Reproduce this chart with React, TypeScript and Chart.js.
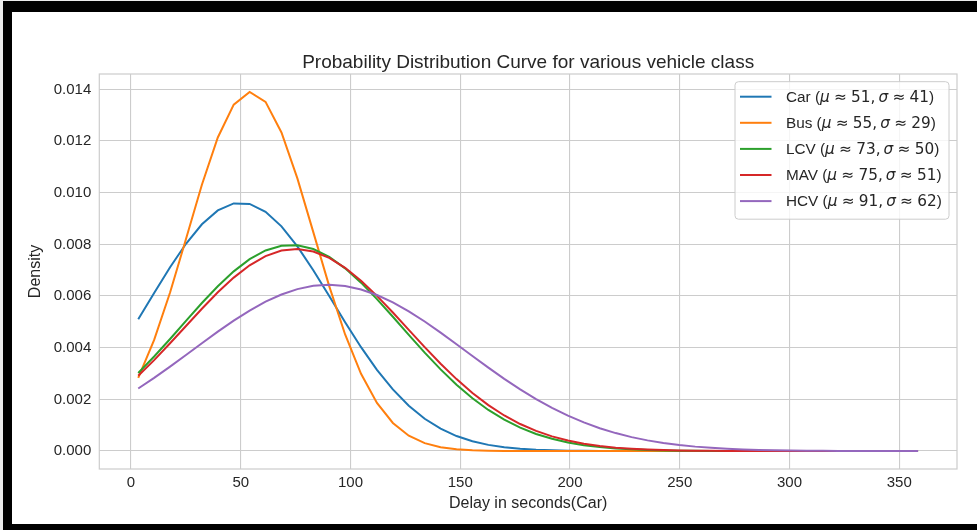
import React, { useEffect, useRef } from "react";
import { Chart, registerables } from "chart.js";

Chart.register(...registerables);

// ---------------- data ----------------
const delaySeconds = [
  3.3, 10.55, 17.8, 25.05, 32.3, 39.55, 46.8, 54.05, 61.3, 68.55,
  75.8, 83.05, 90.3, 97.55, 104.8, 112.05, 119.3, 126.55, 133.8, 141.05,
  148.3, 155.55, 162.8, 170.05, 177.3, 184.55, 191.8, 199.05, 206.3, 213.55,
  220.8, 228.05, 235.3, 242.55, 249.8, 257.05, 264.3, 271.55, 278.8, 286.05,
  293.3, 300.55, 307.8, 315.05, 322.3, 329.55, 336.8, 344.05, 351.3, 358.55,
];

const carDensity = [
  0.005104, 0.006119, 0.007114, 0.008024, 0.008777, 0.009313, 0.009584, 0.009567, 0.009263, 0.008699,
  0.007924, 0.007001, 0.005999, 0.004986, 0.00402, 0.003143, 0.002384, 0.001754, 0.001251, 0.000866,
  0.000581, 0.000379, 0.000239, 0.000146, 0.000087, 0.00005, 0.000028, 0.000015, 0.000008, 0.000004,
  0.000002, 0.000001, 0, 0, 0, 0, 0, 0, 0, 0,
  0, 0, 0, 0, 0, 0, 0, 0, 0, 0,
];

const busDensity = [
  0.002831, 0.004303, 0.006137, 0.008211, 0.010306, 0.012137, 0.013409, 0.013898, 0.013515, 0.01233,
  0.010554, 0.008475, 0.006385, 0.004513, 0.002992, 0.001862, 0.001087, 0.000595, 0.000306, 0.000147,
  0.000067, 0.000028, 0.000011, 0.000004, 0.000002, 0.000001, 0, 0, 0, 0,
  0, 0, 0, 0, 0, 0, 0, 0, 0, 0,
  0, 0, 0, 0, 0, 0, 0, 0, 0, 0,
];

const lcvDensity = [
  0.00302, 0.003658, 0.004338, 0.005038, 0.005729, 0.006379, 0.006955, 0.007426, 0.007763, 0.007947,
  0.007966, 0.007819, 0.007515, 0.007073, 0.006518, 0.005881, 0.005197, 0.004496, 0.003809, 0.00316,
  0.002567, 0.002042, 0.00159, 0.001213, 0.000906, 0.000662, 0.000474, 0.000333, 0.000228, 0.000153,
  0.000101, 0.000065, 0.000041, 0.000025, 0.000015, 0.000009, 0.000005, 0.000003, 0.000002, 0.000001,
  0, 0, 0, 0, 0, 0, 0, 0, 0, 0,
];

const mavDensity = [
  0.002912, 0.00352, 0.004171, 0.004842, 0.00551, 0.006144, 0.006714, 0.00719, 0.007545, 0.00776,
  0.007821, 0.007726, 0.007478, 0.007094, 0.006595, 0.006008, 0.005364, 0.004693, 0.004024, 0.003382,
  0.002785, 0.002247, 0.001777, 0.001377, 0.001046, 0.000779, 0.000568, 0.000406, 0.000284, 0.000195,
  0.000131, 0.000087, 0.000056, 0.000036, 0.000022, 0.000013, 0.000008, 0.000005, 0.000003, 0.000002,
  0.000001, 0, 0, 0, 0, 0, 0, 0, 0, 0,
];

const hcvDensity = [
  0.00242, 0.002831, 0.003266, 0.003717, 0.004173, 0.004621, 0.005048, 0.005439, 0.005781, 0.006061,
  0.006268, 0.006394, 0.006434, 0.006387, 0.006254, 0.00604, 0.005755, 0.005408, 0.005014, 0.004585,
  0.004135, 0.00368, 0.00323, 0.002796, 0.002388, 0.002011, 0.001671, 0.00137, 0.001108, 0.000884,
  0.000695, 0.000539, 0.000413, 0.000312, 0.000232, 0.000171, 0.000124, 0.000088, 0.000062, 0.000043,
  0.00003, 0.00002, 0.000014, 0.000009, 0.000006, 0.000004, 0.000002, 0.000002, 0.000001, 0.000001,
];

const seriesNames = ["Car", "Bus", "LCV", "MAV", "HCV"];
const seriesMu = ["51", "55", "73", "75", "91"];
const seriesSigma = ["41", "29", "50", "51", "62"];
const seriesValues = [carDensity, busDensity, lcvDensity, mavDensity, hcvDensity];

const xTickValues = [0, 50, 100, 150, 200, 250, 300, 350];
const yTickValues = [0, 0.002, 0.004, 0.006, 0.008, 0.01, 0.012, 0.014];

const chartTitle = "Probability Distribution Curve for various vehicle class";
const xAxisTitle = "Delay in seconds(Car)";
const yAxisTitle = "Density";

// ---------------- styles ----------------
const seriesColors = ["#1f77b4", "#ff7f0e", "#2ca02c", "#d62728", "#9467bd"];
const TEXT = "#262626";
const GRID = "#cccccc";
const SANS = '"Liberation Sans", Arial, sans-serif';
const MATH = '"DejaVu Sans", sans-serif';

const mplPlugin = {
  id: "mplDecor",
  afterDatasetsDraw(chart: any) {
    const ctx = chart.ctx;
    const ca = chart.chartArea;
    ctx.save();
    // spines
    ctx.strokeStyle = GRID;
    ctx.lineWidth = 1.2;
    ctx.strokeRect(ca.left, ca.top, ca.right - ca.left, ca.bottom - ca.top);
    ctx.restore();
  },
  afterDraw(chart: any) {
    const ctx = chart.ctx;
    const ca = chart.chartArea;
    ctx.save();
    // title
    ctx.fillStyle = TEXT;
    ctx.font = `19px ${SANS}`;
    ctx.textAlign = "center";
    ctx.textBaseline = "alphabetic";
    ctx.fillText(chartTitle, (ca.left + ca.right) / 2, 68);

    // legend
    const fs = 15.3;
    const boxW = 214;
    const boxH = 137.5;
    const boxR = ca.right - 8;
    const boxT = ca.top + 7.7;
    const boxL = boxR - boxW;
    const r = 3.5;
    ctx.beginPath();
    ctx.moveTo(boxL + r, boxT);
    ctx.lineTo(boxR - r, boxT);
    ctx.arcTo(boxR, boxT, boxR, boxT + r, r);
    ctx.lineTo(boxR, boxT + boxH - r);
    ctx.arcTo(boxR, boxT + boxH, boxR - r, boxT + boxH, r);
    ctx.lineTo(boxL + r, boxT + boxH);
    ctx.arcTo(boxL, boxT + boxH, boxL, boxT + boxH - r, r);
    ctx.lineTo(boxL, boxT + r);
    ctx.arcTo(boxL, boxT, boxL + r, boxT, r);
    ctx.closePath();
    ctx.fillStyle = "rgba(255,255,255,0.8)";
    ctx.fill();
    ctx.strokeStyle = GRID;
    ctx.lineWidth = 1;
    ctx.stroke();

    ctx.textAlign = "left";
    ctx.textBaseline = "alphabetic";
    seriesNames.forEach((name, i) => {
      const cy = boxT + 15 + i * 26.1;
      ctx.strokeStyle = seriesColors[i];
      ctx.lineWidth = 2;
      ctx.beginPath();
      ctx.moveTo(boxL + 5, cy);
      ctx.lineTo(boxL + 36.5, cy);
      ctx.stroke();

      ctx.fillStyle = TEXT;
      let x = boxL + 51;
      const base = cy + 5.2;
      const segs: [string, string, number][] = [
        [name + " (", `${fs}px ${SANS}`, 0],
        ["\u03bc", `italic ${fs}px ${MATH}`, 0.28],
        ["\u2248", `${fs}px ${MATH}`, 0.28],
        [seriesMu[i] + ",", `${fs}px ${MATH}`, 0.2],
        ["\u03c3", `italic ${fs}px ${MATH}`, 0.28],
        ["\u2248", `${fs}px ${MATH}`, 0.28],
        [seriesSigma[i], `${fs}px ${MATH}`, 0],
        [")", `${fs}px ${SANS}`, 0],
      ];
      segs.forEach(([t, f, gap]) => {
        ctx.font = f;
        ctx.fillText(t, x, base);
        x += ctx.measureText(t).width + gap * fs;
      });
    });
    ctx.restore();
  },
};

export default function App() {
  const canvasRef = useRef<HTMLCanvasElement | null>(null);

  useEffect(() => {
    document.body.style.margin = "0";
    const canvas = canvasRef.current;
    if (!canvas) return;
    Chart.defaults.font.family = SANS;
    const chart = new Chart(canvas, {
      type: "line",
      data: {
        datasets: seriesNames.map((name, i) => ({
          label: name,
          data: delaySeconds.map((x, j) => ({ x, y: seriesValues[i][j] })),
          borderColor: seriesColors[i],
          backgroundColor: seriesColors[i],
          borderWidth: 2,
          pointRadius: 0,
          tension: 0,
          fill: false,
          order: seriesNames.length - i,
        })),
      },
      options: {
        responsive: false,
        animation: false,
        events: [],
        layout: { padding: { left: 12, right: 20, top: 74, bottom: 6 } },
        plugins: {
          legend: { display: false },
          tooltip: { enabled: false },
          title: { display: false },
        },
        scales: {
          x: {
            type: "linear",
            min: -14.44,
            max: 376.3,
            afterBuildTicks: (s: any) => {
              s.ticks = xTickValues.map((v) => ({ value: v }));
            },
            afterFit: (s: any) => {
              s.height = 55;
            },
            ticks: {
              autoSkip: false,
              maxRotation: 0,
              padding: 5,
              color: TEXT,
              font: { size: 15, family: SANS },
              callback: (v: any) => String(v),
            },
            grid: { color: GRID, lineWidth: 1.1, drawTicks: false },
            border: { display: false },
            title: {
              display: true,
              text: xAxisTitle,
              color: TEXT,
              font: { size: 16, family: SANS },
              padding: { top: 0, bottom: 11 },
            },
          },
          y: {
            type: "linear",
            min: -0.000695,
            max: 0.014595,
            afterBuildTicks: (s: any) => {
              s.ticks = yTickValues.map((v) => ({ value: v }));
            },
            afterFit: (s: any) => {
              s.width = 87.3;
            },
            ticks: {
              padding: 8,
              color: TEXT,
              font: { size: 15, family: SANS },
              callback: (v: any) => Number(v).toFixed(3),
            },
            grid: { color: GRID, lineWidth: 1.1, drawTicks: false },
            border: { display: false },
            title: {
              display: true,
              text: yAxisTitle,
              color: TEXT,
              font: { size: 16, family: SANS },
              padding: { top: 14, bottom: 0 },
            },
          },
        },
      },
      plugins: [mplPlugin],
    } as any);
    return () => chart.destroy();
  }, []);

  return (
    <div
      style={{
        position: "fixed",
        left: 0,
        top: 0,
        width: 977,
        height: 530,
        background: "#ebebeb",
        overflow: "hidden",
      }}
    >
      <div style={{ position: "absolute", left: 3, top: 1, width: 974, height: 529, background: "#ffffff" }} />
      <canvas
        ref={canvasRef}
        width={977}
        height={530}
        style={{ position: "absolute", left: 0, top: 0, width: 977, height: 530 }}
      />
      <div style={{ position: "absolute", left: 3, top: 1, width: 974, height: 11, background: "#000" }} />
      <div style={{ position: "absolute", left: 3, top: 1, width: 9, height: 529, background: "#000" }} />
      <div style={{ position: "absolute", left: 3, top: 524, width: 974, height: 6, background: "#000" }} />
    </div>
  );
}
